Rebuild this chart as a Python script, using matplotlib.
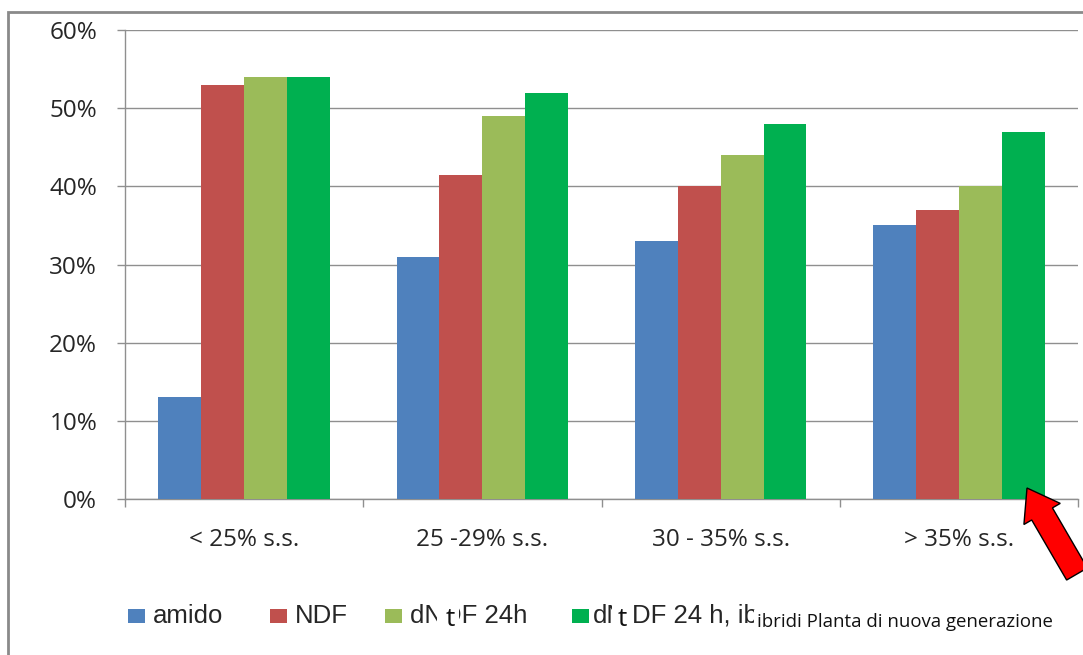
import matplotlib
matplotlib.use("Agg")
import matplotlib.pyplot as plt
import numpy as np
from matplotlib.patches import Rectangle, FancyArrow

categories = ["< 25% s.s.", "25 -29% s.s.", "30 - 35% s.s.", "> 35% s.s."]
amido = [13, 31, 33, 35]
ndf = [53, 41.5, 40, 37]
dndf_24h = [54, 49, 44, 40]
dndf_24h_ibridi = [54, 52, 48, 47]
series_labels = ["amido", "NDF", "dNDF 24h", "dNDF 24 h, ib"]
colors = ["#4F81BD", "#C0504D", "#9BBB59", "#00B050"]
y_ticks = [0, 10, 20, 30, 40, 50, 60]
note = "ibridi Planta di nuova generazione"

W, H = 1083, 655
fig = plt.figure(figsize=(W / 100, H / 100), dpi=100)
ax = fig.add_axes([125 / W, 1 - 499 / H, (1078 - 125) / W, (499 - 30) / H])

TICK_FONT = "Open Sans"
TEXT_COL = "#262626"
GRID_COL = "#8f8f8f"

series = [amido, ndf, dndf_24h, dndf_24h_ibridi]
x = np.arange(len(categories))
bw = 0.18
for i, (vals, col) in enumerate(zip(series, colors)):
    ax.bar(x + (i - 1.5) * bw, vals, width=bw, color=col, zorder=3)

ax.set_xlim(-0.5, len(categories) - 0.5)
ax.set_ylim(0, 60)
ax.set_yticks(y_ticks)
ax.set_yticklabels([f"{v}%" for v in y_ticks], fontsize=17.5, family=TICK_FONT, color=TEXT_COL)
ax.yaxis.grid(True, color=GRID_COL, linewidth=1.0, zorder=0)
ax.set_axisbelow(True)

ax.set_xticks(np.arange(len(categories) + 1) - 0.5)
ax.set_xticklabels([])
ax.set_xticks(x, minor=True)
ax.set_xticklabels(categories, minor=True, fontsize=17.5, family=TICK_FONT, color=TEXT_COL)
ax.tick_params(axis="x", which="minor", length=0, pad=21)
ax.tick_params(axis="x", which="major", length=6, color=GRID_COL, width=1)
ax.tick_params(axis="y", length=6, color=GRID_COL, width=1, pad=14)

for s in ["top", "right"]:
    ax.spines[s].set_visible(False)
for s in ["left", "bottom"]:
    ax.spines[s].set_color(GRID_COL)
    ax.spines[s].set_linewidth(1.0)

# outer chart frame
fig.patches.append(Rectangle((8 / W, -0.1), 1.2, 1 - 12 / H + 0.1, transform=fig.transFigure,
                             fill=False, edgecolor="#8a8a8a", linewidth=2))

renderer = fig.canvas.get_renderer()
LEG_FONT = dict(family="Liberation Sans", size=18.5, color=TEXT_COL)
y_leg = 1 - 616 / H


def text_width(s, **kw):
    t = fig.text(0, 0, s, **kw)
    w = t.get_window_extent(renderer).width
    t.remove()
    return w


def leg_text(px, s):
    fig.text(px / W, y_leg, s, va="center", ha="left", **LEG_FONT)


def white_t(px0, px1, tx):
    fig.patches.append(Rectangle((px0 / W, y_leg - 13 / H), (px1 - px0) / W, 26 / H,
                                 transform=fig.transFigure, facecolor="white",
                                 edgecolor="none", zorder=5))
    fig.text(tx / W, y_leg - 3 / H, "t", family="Open Sans", fontsize=19, color="#111111",
             va="center", ha="left", zorder=6)


# legend keys
swatch_x = [128, 270, 385, 572]
text_x = [153, 295, 410, 593]
for sx, c in zip(swatch_x, colors):
    fig.patches.append(Rectangle((sx / W, y_leg - 7 / H), 17 / W, 14 / H,
                                 transform=fig.transFigure, facecolor=c, edgecolor="none"))

leg_text(text_x[0], series_labels[0])
leg_text(text_x[1], series_labels[1])

# third label with the overprinted "t"
lab3 = series_labels[2]
leg_text(text_x[2], lab3)
w_dn = text_width("dN", **LEG_FONT)
w_dnd = text_width("dND", **LEG_FONT)
white_t(text_x[2] + w_dn - 6, text_x[2] + w_dnd - 3, text_x[2] + w_dn + 3)

# fourth label, split around the overprinted "t"
lab4 = series_labels[3]
w_d = text_width("d", **LEG_FONT)
leg_text(text_x[3], lab4[:2])
leg_text(632, lab4[2:])
white_t(text_x[3] + w_d + 5, 631, 618)

fig.text(757 / W, 1 - 622 / H, note, fontsize=13.4, family="Open Sans", color="#111111",
         va="center", ha="left", zorder=7,
         bbox=dict(facecolor="white", edgecolor="none", pad=2))

# red arrow pointing at the last bar
tip = (1027, 488)
tail = (1077, 574)
fig.patches.append(FancyArrow(tail[0], H - tail[1], tip[0] - tail[0], tail[1] - tip[1],
                              width=24, head_width=42, head_length=30,
                              length_includes_head=True, transform=None,
                              facecolor="#FF0000", edgecolor="black", linewidth=1, zorder=8))

fig.savefig("out.png", dpi=100)
